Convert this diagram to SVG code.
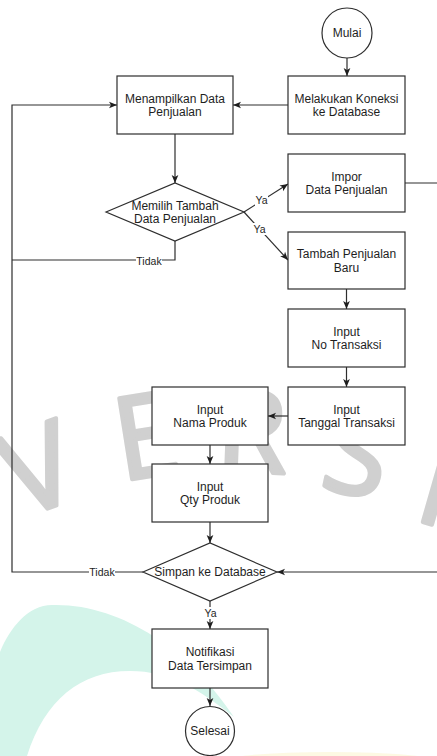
<svg xmlns="http://www.w3.org/2000/svg" width="437" height="756" viewBox="0 0 437 756">
  <style>
    .box { fill: #ffffff; stroke: #2e2e2e; stroke-width: 1.2; }
    .edge { fill: none; stroke: #2e2e2e; stroke-width: 1.2; }
    .txt { font-family: "Liberation Sans", Arial, sans-serif; font-size: 12px; fill: #1e1e1e; text-anchor: middle; }
    .lbl { font-family: "Liberation Sans", Arial, sans-serif; font-size: 10.5px; fill: #1e1e1e; text-anchor: middle; }
    .lblbg { fill: #ffffff; }
    .wm { font-family: "Open Sans", "Noto Sans", sans-serif; font-size: 115px; fill: #d0d0d0; stroke: #d0d0d0; stroke-width: 4; stroke-linejoin: round; }
  </style>
  <defs>
    <marker id="arrow" viewBox="0 0 10 10" refX="10" refY="5" markerWidth="8" markerHeight="8" markerUnits="userSpaceOnUse" orient="auto">
      <path d="M0,0.8 L10,5 L0,9.2 L2.5,5 Z" fill="#1e1e1e"/>
    </marker>
  </defs>

  <rect width="437" height="756" fill="#ffffff"/>

  <!-- background decoration -->
  <g id="background">
    <path d="M0,652 C10,628 28,605 52,605 C120,603 190,650 234,717 C200,690 170,671 130,671 C80,671 45,700 27,756 L0,756 Z" fill="#d4f4ea"/>
    <ellipse cx="330" cy="762" rx="110" ry="10" fill="#fbf3c8" opacity="0.5"/>
    <text class="wm" text-anchor="middle" transform="translate(52,507) rotate(-20)">V</text>
    <text class="wm" transform="translate(121,481) rotate(-9)">E</text>
    <text class="wm" transform="translate(215,471) rotate(2)">R</text>
    <text class="wm" transform="translate(318,487) rotate(12)">S</text>
    <text class="wm" transform="translate(412,519) rotate(16)">I</text>
  </g>

  <!-- connectors -->
  <g id="connectors">
    <path class="edge" d="M347,58 V76" marker-end="url(#arrow)"/>
    <path class="edge" d="M288,105 H233" marker-end="url(#arrow)"/>
    <path class="edge" d="M175,134 V183" marker-end="url(#arrow)"/>
    <path class="edge" d="M244,212 L288,184" marker-end="url(#arrow)"/>
    <path class="edge" d="M244,212 L288,260" marker-end="url(#arrow)"/>
    <path class="edge" d="M175,241 V260 H12"/>
    <path class="edge" d="M143,572 H12 V105 H117" marker-end="url(#arrow)"/>
    <path class="edge" d="M405,183 H445 V572 H277" marker-end="url(#arrow)"/>
    <path class="edge" d="M346.5,289 V309" marker-end="url(#arrow)"/>
    <path class="edge" d="M346.5,367 V387" marker-end="url(#arrow)"/>
    <path class="edge" d="M288,416 H268" marker-end="url(#arrow)"/>
    <path class="edge" d="M210,445 V464" marker-end="url(#arrow)"/>
    <path class="edge" d="M210,522 V543" marker-end="url(#arrow)"/>
    <path class="edge" d="M210,601 V629" marker-end="url(#arrow)"/>
    <path class="edge" d="M210,688 V706" marker-end="url(#arrow)"/>

    <rect class="lblbg" x="255" y="194" width="13" height="12"/>
    <text class="lbl" x="261.5" y="204">Ya</text>
    <rect class="lblbg" x="253" y="223" width="13" height="12"/>
    <text class="lbl" x="259.5" y="233">Ya</text>
    <rect class="lblbg" x="136" y="255" width="26" height="12"/>
    <text class="lbl" x="149" y="265">Tidak</text>
    <rect class="lblbg" x="89" y="566" width="26" height="12"/>
    <text class="lbl" x="102" y="576">Tidak</text>
    <rect class="lblbg" x="204" y="607" width="13" height="12"/>
    <text class="lbl" x="210.5" y="617">Ya</text>
  </g>

  <!-- nodes -->
  <g id="mulai">
    <circle class="box" cx="347" cy="33" r="25"/>
    <text class="txt" x="347" y="37">Mulai</text>
  </g>
  <g id="koneksi">
    <rect class="box" x="288" y="76" width="117" height="58"/>
    <text class="txt" x="346.5" y="102.5">Melakukan Koneksi</text>
    <text class="txt" x="346.5" y="116">ke Database</text>
  </g>
  <g id="tampil">
    <rect class="box" x="117" y="76" width="116" height="58"/>
    <text class="txt" x="175" y="102.5">Menampilkan Data</text>
    <text class="txt" x="175" y="116">Penjualan</text>
  </g>
  <g id="pilih">
    <polygon class="box" points="106,212 175,183 244,212 175,241"/>
    <text class="txt" x="175" y="209.5">Memilih Tambah</text>
    <text class="txt" x="175" y="223">Data Penjualan</text>
  </g>
  <g id="impor">
    <rect class="box" x="288" y="154" width="117" height="58"/>
    <text class="txt" x="346.5" y="180.5">Impor</text>
    <text class="txt" x="346.5" y="194">Data Penjualan</text>
  </g>
  <g id="tambah">
    <rect class="box" x="288" y="232" width="117" height="57"/>
    <text class="txt" x="346.5" y="258">Tambah Penjualan</text>
    <text class="txt" x="346.5" y="271.5">Baru</text>
  </g>
  <g id="no-transaksi">
    <rect class="box" x="288" y="309" width="117" height="58"/>
    <text class="txt" x="346.5" y="335.5">Input</text>
    <text class="txt" x="346.5" y="349">No Transaksi</text>
  </g>
  <g id="tanggal">
    <rect class="box" x="288" y="387" width="117" height="58"/>
    <text class="txt" x="346.5" y="413.5">Input</text>
    <text class="txt" x="346.5" y="427">Tanggal Transaksi</text>
  </g>
  <g id="nama-produk">
    <rect class="box" x="152" y="387" width="116" height="58"/>
    <text class="txt" x="210" y="413.5">Input</text>
    <text class="txt" x="210" y="427">Nama Produk</text>
  </g>
  <g id="qty-produk">
    <rect class="box" x="152" y="464" width="116" height="58"/>
    <text class="txt" x="210" y="490.5">Input</text>
    <text class="txt" x="210" y="504">Qty Produk</text>
  </g>
  <g id="simpan">
    <polygon class="box" points="143,572 210,543 277,572 210,601"/>
    <text class="txt" x="210" y="576">Simpan ke Database</text>
  </g>
  <g id="notifikasi">
    <rect class="box" x="152" y="629" width="116" height="59"/>
    <text class="txt" x="210" y="656">Notifikasi</text>
    <text class="txt" x="210" y="669.5">Data Tersimpan</text>
  </g>
  <g id="selesai">
    <circle class="box" cx="210" cy="731" r="24.5"/>
    <text class="txt" x="210" y="735">Selesai</text>
  </g>
</svg>
